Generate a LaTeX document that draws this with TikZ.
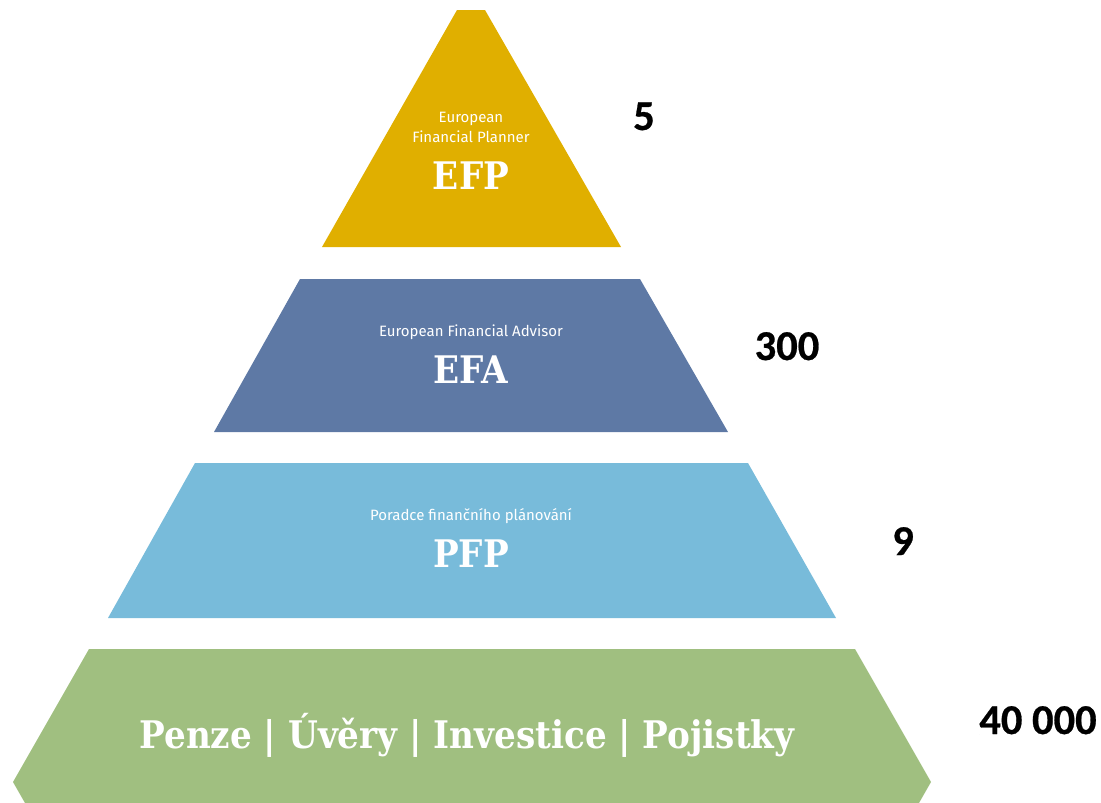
\documentclass[tikz,border=0pt]{standalone}
\usepackage{fontspec}
\setmainfont{Fira Sans}
\newfontfamily\tierfont{DejaVu Serif Condensed}
\newfontfamily\countfont{Carlito}[BoldFont={Carlito Bold}, BoldFeatures={FakeBold=0.6}]
\usetikzlibrary{positioning}

\definecolor{efpgold}{HTML}{E0AF00}
\definecolor{efablue}{HTML}{5E79A5}
\definecolor{pfpblue}{HTML}{78BBDA}
\definecolor{basegreen}{HTML}{A0BF80}

\begin{document}
\begin{tikzpicture}[
    x=1pt, y=-1pt,
    tier/.style={
        draw=none,
    },
    caption/.style={
        text=white,
        font=\fontsize{15}{20}\selectfont,
        align=center,
        inner sep=0pt,
        anchor=base,
    },
    acronym/.style={
        text=white,
        font=\tierfont\bfseries\fontsize{38}{38}\selectfont,
        inner sep=0pt,
        anchor=base,
    },
    count/.style={
        font=\countfont\bfseries\fontsize{42.5}{42.5}\selectfont,
        inner sep=0pt,
        anchor=base,
    }
]
    \useasboundingbox (0,0) rectangle (1101,803);

    % Tiers
    \fill[tier, efpgold] (457,10) -- (485,10) -- (621,247) -- (322,247) -- cycle;
    \fill[tier, efablue] (300,279) -- (640,279) -- (728,432) -- (214,432) -- cycle;
    \fill[tier, pfpblue] (195,463) -- (748,463) -- (836,618) -- (108,618) -- cycle;
    \fill[tier, basegreen] (89,649) -- (855,649) -- (931,782) -- (919,803)
        -- (25,803) -- (13,782) -- cycle;

    % Tier labels
    \node[caption] (efpname) at (471,142) {European\\Financial Planner};
    \node[acronym] (efp) at (471,189) {EFP};
    \node[caption] (efaname) at (471,336) {European Financial Advisor};
    \node[acronym] (efa) at (471,383) {EFA};
    \node[caption] (pfpname) at (471,520) {Poradce finančního plánování};
    \node[acronym] (pfp) at (471,567) {PFP};
    \node[acronym] (base) at (467,748) {Penze | Úvěry | Investice | Pojistky};

    % Counts
    \node[count] (efpcount) at (644,130) {5};
    \node[count] (efacount) at (787,360) {300};
    \node[count] (pfpcount) at (903,555) {9};
    \node[count] (basecount) at (1038,734) {40 000};
\end{tikzpicture}
\end{document}
